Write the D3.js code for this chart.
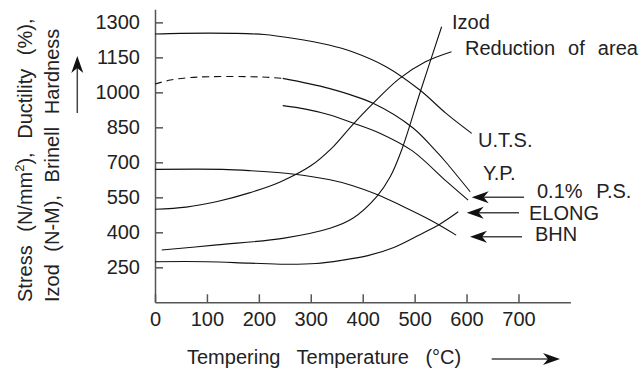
<!DOCTYPE html>
<html><head><meta charset="utf-8">
<script src="https://cdn.jsdelivr.net/npm/d3@7"></script>
<style>html,body{margin:0;padding:0;background:#fff;} svg{display:block;font-family:"Liberation Sans",Arial,Helvetica,sans-serif;}</style>
</head><body>
<svg id="c" width="641" height="371"></svg>
<script>
// ---- data ----
const xTicks = [0, 100, 200, 300, 400, 500, 600, 700];
const yTicks = [250, 400, 550, 700, 850, 1000, 1150, 1300];

const utsT = [0, 50, 150, 210, 265, 335, 380, 445, 510, 560, 610];
const utsV = [1250, 1253, 1253, 1248, 1232, 1203, 1174, 1110, 1010, 911, 824];

const ypDashT = [0, 30, 65, 105, 185, 220, 246];
const ypDashV = [1036, 1053, 1063, 1067, 1067, 1064, 1060];
const ypT = [246, 335, 420, 497, 539, 562, 607];
const ypV = [1060, 1017, 953, 847, 753, 696, 574];

const psT = [246, 290, 337, 381, 433, 495, 562, 603];
const psV = [943, 928, 903, 869, 825, 750, 617, 538];

const izodT = [13, 119, 246, 337, 381, 427, 453, 475, 510, 552];
const izodV = [324, 346, 374, 417, 460, 553, 638, 753, 996, 1281];

const raT = [0, 60, 120, 180, 240, 300, 340, 380, 420, 470, 520, 571];
const raV = [499, 508, 532, 568, 615, 685, 760, 860, 953, 1058, 1130, 1174];

const elongT = [0, 100, 180, 250, 310, 360, 410, 460, 510, 550, 584];
const elongV = [274, 274, 268, 263, 266, 280, 300, 335, 390, 437, 488];

const bhnT = [0, 130, 185, 265, 337, 381, 430, 472, 530, 580];
const bhnV = [670, 670, 664, 650, 625, 600, 560, 517, 453, 388];

// ---- drawing ----
const svg = d3.select("#c");
const FONT = '"Liberation Sans",Arial,Helvetica,sans-serif';
const x = d3.scaleLinear().domain([0, 800]).range([155, 570.4]);
const y = d3.scaleLinear().domain([100, 1356]).range([302.3, 9.3]);
const AX = "#555", TXT = "#222";

const gx = svg.append("g").attr("transform", "translate(0,302.3)")
  .call(d3.axisBottom(x).tickValues(xTicks).tickFormat(d3.format("d"))
    .tickSizeInner(-8).tickSizeOuter(0).tickPadding(10));
const gy = svg.append("g").attr("transform", "translate(155,0)")
  .call(d3.axisLeft(y).tickValues(yTicks).tickFormat(d3.format("d"))
    .tickSizeInner(-8).tickSizeOuter(0).tickPadding(15));
[gx, gy].forEach(g => {
  g.attr("font-size", 20).attr("font-family", FONT);
  g.select(".domain").attr("stroke", AX).attr("stroke-width", 1.5);
  g.selectAll(".tick line").attr("stroke", AX).attr("stroke-width", 1.5);
  g.selectAll(".tick text").attr("fill", TXT);
});

const line = d3.line().x(d => x(d[0])).y(d => y(d[1])).curve(d3.curveCatmullRom.alpha(0.5));
function curve(T, V, dash) {
  svg.append("path").datum(d3.zip(T, V)).attr("d", line)
    .attr("fill", "none").attr("stroke", "#111").attr("stroke-width", 1.1)
    .attr("stroke-dasharray", dash || null);
}
curve(utsT, utsV);
curve(ypDashT, ypDashV, "7,5");
curve(ypT, ypV);
curve(psT, psV);
curve(izodT, izodV);
curve(raT, raV);
curve(elongT, elongV);
curve(bhnT, bhnV);

function label(txt, px, py, ws) {
  svg.append("text").attr("x", px).attr("y", py).attr("font-size", 20).attr("fill", TXT)
    .style("word-spacing", (ws || 7) + "px").text(txt);
}
label("Izod", 452, 29);
label("Reduction of area", 465, 55, 7.5);
label("U.T.S.", 478, 147);
label("Y.P.", 483, 180);
label("0.1% P.S.", 537, 198, 8);
label("ELONG", 529, 220);
label("BHN", 535, 241);

// arrows
function arrow(x1, y1, x2, y2) { // tail -> tip
  const ang = Math.atan2(y2 - y1, x2 - x1) * 180 / Math.PI;
  const len = Math.hypot(x2 - x1, y2 - y1);
  const g = svg.append("g").attr("transform", `translate(${x2},${y2}) rotate(${ang})`);
  g.append("line").attr("x1", -len).attr("y1", 0).attr("x2", -12).attr("y2", 0)
    .attr("stroke", "#444").attr("stroke-width", 1.5);
  g.append("path").attr("d", "M0,0 L-17,-6 L-12,0 L-17,6 Z").attr("fill", "#111");
}
arrow(524, 197.3, 471.7, 197.3);
arrow(519, 212.7, 466.7, 212.7);
arrow(522, 236.7, 470, 236.7);
arrow(491.7, 359, 560, 359);
arrow(77.3, 113, 77.3, 56);

// axis titles
const t1 = svg.append("text").attr("transform", "translate(31.5,302) rotate(-90)")
  .attr("font-size", 20).attr("fill", TXT).style("word-spacing", "8px");
t1.append("tspan").text("Stress (N/mm");
t1.append("tspan").attr("dy", -8).attr("font-size", 13).text("2");
t1.append("tspan").attr("dy", 8).text("), Ductility (%),");
svg.append("text").attr("transform", "translate(58.5,302) rotate(-90)")
  .attr("font-size", 20).attr("fill", TXT).style("word-spacing", "7px")
  .text("Izod (N-M), Brinell Hardness");
label("Tempering Temperature (°C)", 187, 364, 11);
</script></body></html>
